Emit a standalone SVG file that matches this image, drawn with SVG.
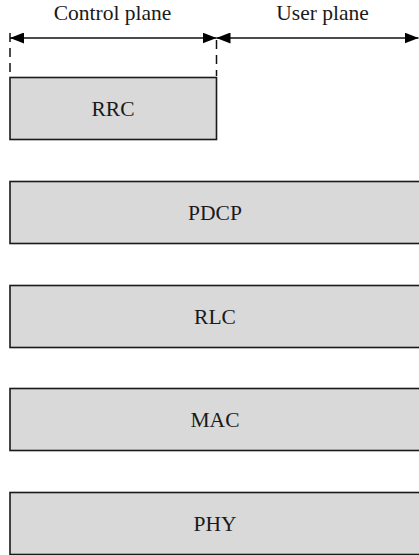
<svg xmlns="http://www.w3.org/2000/svg" width="419" height="555" viewBox="0 0 419 555">
  <style>
    .layer rect { fill: #d9d9d9; stroke: #1a1a1a; stroke-width: 1.6; }
    .lbl { font-family: 'Liberation Serif', 'Times New Roman', serif; font-size: 21.5px; fill: #1a1a1a; text-anchor: middle; }
    .span { stroke: #111; stroke-width: 1.5; fill: none; }
    .guide { stroke: #111; stroke-width: 1.5; stroke-dasharray: 9 6; fill: none; }
  </style>
  <defs>
    <marker id="head" viewBox="0 0 14 11" refX="14" refY="5.5" markerWidth="14" markerHeight="11" markerUnits="userSpaceOnUse" orient="auto-start-reverse">
      <path d="M0,0 L14,5.5 L0,11 Z" fill="#000"/>
    </marker>
  </defs>

  <rect width="419" height="555" fill="#fff"/>

  <!-- plane labels -->
  <text class="lbl" x="112.5" y="20">Control plane</text>
  <text class="lbl" x="322.5" y="20">User plane</text>

  <!-- extent arrows and boundary guides -->
  <g id="connectors">
    <line class="guide" x1="10" y1="33" x2="10" y2="76"/>
    <line class="guide" x1="216.5" y1="40" x2="216.5" y2="76"/>
    <line class="span" x1="10" y1="38" x2="216.5" y2="38" marker-start="url(#head)" marker-end="url(#head)"/>
    <line class="span" x1="216.5" y1="38" x2="418.5" y2="38" marker-start="url(#head)" marker-end="url(#head)"/>
  </g>

  <!-- protocol layers -->
  <g id="rrc" class="layer">
    <rect x="10" y="77.5" width="206.5" height="62"/>
    <text class="lbl" x="113" y="116">RRC</text>
  </g>
  <g id="pdcp" class="layer">
    <rect x="10" y="181.5" width="410" height="62"/>
    <text class="lbl" x="215" y="220">PDCP</text>
  </g>
  <g id="rlc" class="layer">
    <rect x="10" y="285.5" width="410" height="62"/>
    <text class="lbl" x="215" y="324">RLC</text>
  </g>
  <g id="mac" class="layer">
    <rect x="10" y="388.5" width="410" height="62"/>
    <text class="lbl" x="215" y="427">MAC</text>
  </g>
  <g id="phy" class="layer">
    <rect x="10" y="492.5" width="410" height="62"/>
    <text class="lbl" x="215" y="531">PHY</text>
  </g>
</svg>
